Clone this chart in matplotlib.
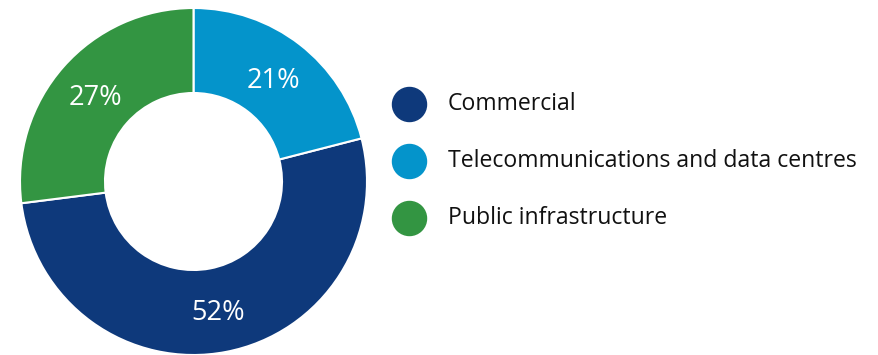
import matplotlib
matplotlib.use("Agg")
import matplotlib.pyplot as plt
from matplotlib.lines import Line2D

# Sector shares (percent)
categories = ["Commercial", "Telecommunications and data centres", "Public infrastructure"]
shares = [52, 21, 27]
colors = ["#0E397B", "#0494CB", "#339542"]

W, H, DPI = 879, 355, 100
fig = plt.figure(figsize=(W / DPI, H / DPI), dpi=DPI)
fig.patch.set_facecolor("white")

# Donut axes: centre (193.5, 181.5) px, outer radius ~173.5 px
cx, cy, r_out = 193.5, 181.5, 173.5
ax = fig.add_axes([(cx - r_out) / W, (H - cy - r_out) / H, 2 * r_out / W, 2 * r_out / H])
ax.axis("off")

inner = 88.5 / r_out
wedges, _, autotexts = ax.pie(
    shares,
    colors=colors,
    startangle=90 + 360 * shares[2] / 100,
    counterclock=True,
    radius=1.0,
    autopct=lambda p: f"{p:.0f}%",
    pctdistance=(1 + inner) / 2,
    wedgeprops=dict(width=1 - inner, edgecolor="white", linewidth=1.5),
    textprops=dict(color="white", fontsize=19.5, family="Open Sans"),
)
# nudge the percentage labels slightly downward for optical centring
for t in autotexts:
    x, y = t.get_position()
    t.set_position((x, y - 0.017))
ax.set_xlim(-1, 1)
ax.set_ylim(-1, 1)
ax.set_aspect("equal")

# Legend: coloured dots with labels
legend_y = [104, 161.5, 217.5]
dot_x = 409
for cat, col, y in zip(categories, colors, legend_y):
    fig.add_artist(Line2D([dot_x / W], [(H - y) / H], marker="o", markersize=24.5,
                          markerfacecolor=col, markeredgecolor=col, linestyle="none",
                          transform=fig.transFigure))
    fig.text(448 / W, (H - y) / H, cat, fontsize=16.6, family="Open Sans",
             color="#111111", ha="left", va="center")

fig.savefig("out.png", dpi=DPI, facecolor="white")
